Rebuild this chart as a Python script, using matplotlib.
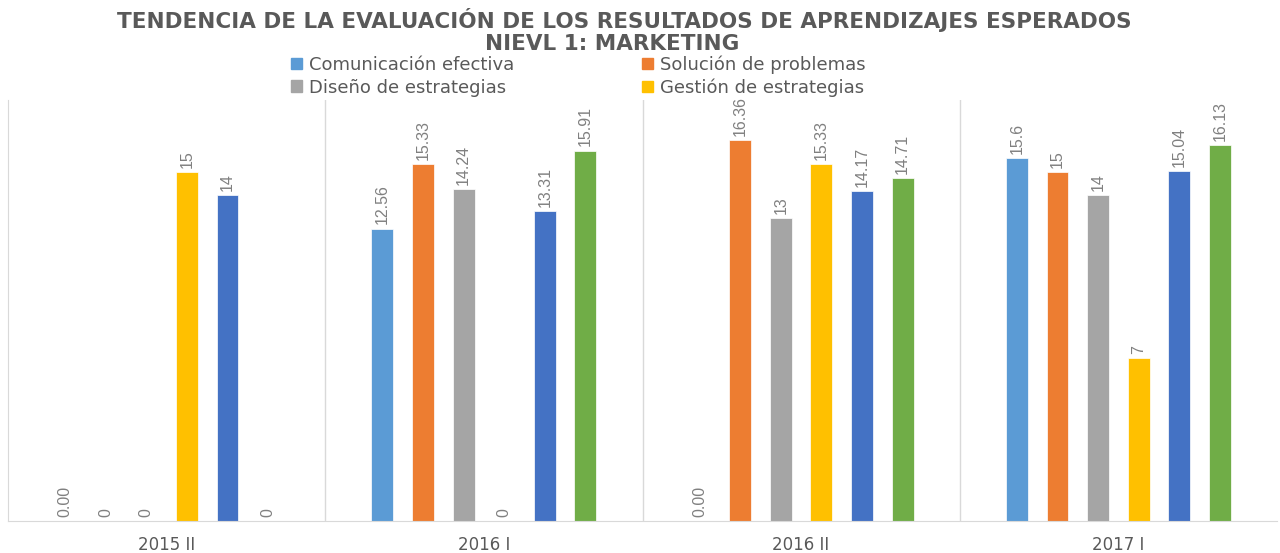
import numpy as np
import matplotlib.pyplot as plt
from matplotlib.patches import Patch

plt.rcParams['font.family'] = ['DejaVu Sans']

# datos
periodos = ['2015 II', '2016 I', '2016 II', '2017 I']
series = ['Comunicación efectiva', 'Solución de problemas',
          'Diseño de estrategias', 'Gestión de estrategias',
          'Serie 5', 'Serie 6']
colores = ['#5B9BD5', '#ED7D31', '#A5A5A5', '#FFC000', '#4472C4', '#70AD47']

valores = [
    [0.00, 12.56, 0.00, 15.6],
    [0, 15.33, 16.36, 15],
    [0, 14.24, 13, 14],
    [15, 0, 15.33, 7],
    [14, 13.31, 14.17, 15.04],
    [0, 15.91, 14.71, 16.13],
]
etiquetas = [
    ['0.00', '12.56', '0.00', '15.6'],
    ['0', '15.33', '16.36', '15'],
    ['0', '14.24', '13', '14'],
    ['15', '0', '15.33', '7'],
    ['14', '13.31', '14.17', '15.04'],
    ['0', '15.91', '14.71', '16.13'],
]

gris = '#595959'

fig = plt.figure(figsize=(12.8, 5.53), dpi=100)
ax = fig.add_axes([8/1280, 32/553, 1269/1280, 421/553])

x = np.arange(len(periodos))
ancho = 0.069
paso = 0.128
for i, (vals, col) in enumerate(zip(valores, colores)):
    pos = x + (i - 2.5) * paso
    ax.bar(pos, vals, width=ancho, color=col, edgecolor='white', linewidth=0.5)
    for xp, v, t in zip(pos, vals, etiquetas[i]):
        ax.annotate(t, (xp, v), xytext=(0, 3), textcoords='offset points',
                    rotation=90, ha='center', va='bottom', fontsize=11.5,
                    color='#808080', fontfamily='Liberation Sans')

ax.set_xlim(-0.5, 3.5)
ax.set_ylim(0, 18.08)
for s in [0.5, 1.5, 2.5]:
    ax.axvline(s, color='#D9D9D9', linewidth=1)
for side in ['top', 'right']:
    ax.spines[side].set_visible(False)
ax.spines['left'].set_color('#D9D9D9')
ax.spines['bottom'].set_color('#D9D9D9')
ax.set_yticks([])
ax.set_xticks(x)
ax.set_xticklabels(periodos, fontsize=12, color=gris)
ax.tick_params(axis='x', length=0, pad=11)

fig.text(0.488, 0.963, 'TENDENCIA DE LA EVALUACIÓN DE LOS RESULTADOS DE APRENDIZAJES ESPERADOS',
         ha='center', va='center', fontsize=15.5, fontweight='bold', color=gris)
fig.text(0.478, 0.92, 'NIEVL 1: MARKETING', ha='center', va='center',
         fontsize=15.5, fontweight='bold', color=gris)

# orden por filas como en la leyenda original
orden = [0, 2, 1, 3]
handles = [Patch(color=colores[k]) for k in orden]
nombres = [series[k] for k in orden]
leg = fig.legend(handles, nombres, loc='center', bbox_to_anchor=(0.452, 0.862),
                 ncol=2, frameon=False, fontsize=13, handlelength=0.6, handleheight=0.6,
                 columnspacing=7.05, labelspacing=0.25, handletextpad=0.4)
for t in leg.get_texts():
    t.set_color(gris)

fig.savefig('out.png', dpi=100)
